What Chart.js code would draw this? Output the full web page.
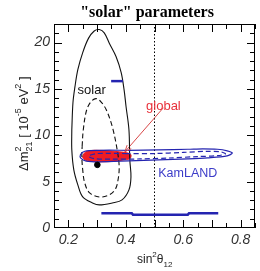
<!DOCTYPE html>
<html>
<head>
<meta charset="utf-8">
<script src="https://cdn.jsdelivr.net/npm/chart.js@4.4.1/dist/chart.umd.min.js"></script>
<style>
  html, body { margin: 0; padding: 0; background: #fff; overflow: hidden; }
  #wrap { width: 260px; height: 271px; }
</style>
</head>
<body>
<div id="wrap"><canvas id="chart" width="260" height="271"></canvas></div>
<script>
// axis ranges and labelled ticks
const xRange = [0.15, 0.85];
const yRange = [0, 22];
const xTicks = [0.2, 0.4, 0.6, 0.8];
const yTicks = [0, 5, 10, 15, 20];

// contours: [sin^2 theta12, dm2 (1e-5 eV^2)]
const solarOuter = [[0.212,10.59],[0.216,13.51],[0.223,15.24],[0.233,17.08],[0.250,18.92],[0.270,20.45],[0.290,21.25],[0.308,21.40],[0.325,21.05],[0.343,19.90],[0.366,18.49],[0.384,16.76],[0.394,14.92],[0.401,13.08],[0.411,10.59],[0.414,7.35],[0.418,5.51],[0.411,4.11],[0.387,3.03],[0.353,2.70],[0.308,2.49],[0.284,2.70],[0.250,3.35],[0.233,4.65],[0.219,6.27],[0.212,8.43],[0.212,10.59]];
const solarInner = [[0.248,8.80],[0.252,10.60],[0.264,12.76],[0.281,13.70],[0.298,13.95],[0.315,13.55],[0.332,12.76],[0.353,10.92],[0.370,8.43],[0.377,6.59],[0.373,5.19],[0.364,4.20],[0.342,3.57],[0.308,3.35],[0.274,3.78],[0.257,4.86],[0.250,6.27],[0.247,7.68],[0.248,8.80]];
const kamOuter = [[0.411,8.38],[0.514,8.43],[0.616,8.49],[0.668,8.54],[0.719,8.49],[0.753,8.32],[0.771,8.08],[0.753,7.78],[0.685,7.57],[0.616,7.46],[0.514,7.35],[0.411,7.24],[0.308,7.14],[0.262,7.22],[0.244,7.50],[0.242,7.89],[0.257,8.28],[0.308,8.38],[0.411,8.38]];
const kamInner = [[0.400,8.03],[0.500,8.03],[0.600,8.15],[0.680,8.27],[0.730,8.22],[0.747,8.00],[0.720,7.80],[0.650,7.70],[0.550,7.55],[0.450,7.45],[0.350,7.42],[0.290,7.48],[0.270,7.75],[0.300,8.03],[0.400,8.03]];
const kamLow = [[0.315,1.58],[0.421,1.58],[0.425,1.44],[0.616,1.44],[0.620,1.58],[0.722,1.58]];
const kamHigh = [[0.349,15.84],[0.390,15.84]];
const globalFit = [[0.342,8.32],[0.377,8.22],[0.404,8.11],[0.418,7.89],[0.414,7.46],[0.394,7.35],[0.360,7.19],[0.308,7.14],[0.267,7.24],[0.253,7.46],[0.250,7.72],[0.260,8.20],[0.291,8.38],[0.342,8.32]];
const bestFit = [[0.301, 6.81]];
const maximalMixing = [[0.5, 0], [0.5, 22]];
const arrowLine = [[0.531, 12.97], [0.397, 8.22]];

const pts = a => a.map(p => ({ x: p[0], y: p[1] }));
const BLUE = '#2424b0';
const RED = '#ee1c24';

function line(data, color, width, dash, tension) {
  return { data: pts(data), showLine: true, borderColor: color, borderWidth: width,
           borderDash: dash || [], pointRadius: 0, tension: tension || 0, fill: false };
}

// draws frame, inward ticks, title, axis titles, annotations
const decor = {
  id: 'decor',
  afterDatasetsDraw(chart) {
    const { ctx, chartArea: a, scales: { x, y } } = chart;
    ctx.save();
    ctx.strokeStyle = '#000';
    ctx.lineWidth = 1;
    ctx.strokeRect(a.left + 0.5, a.top + 0.5, a.right - a.left - 1, a.bottom - a.top - 1);
    ctx.beginPath();
    for (let v = 0.15; v <= 0.851; v += 0.05) {
      const px = Math.round(x.getPixelForValue(v)) + 0.5;
      const len = Math.abs(Math.round(v * 100) % 10) < 1e-6 ? 8 : 5;
      ctx.moveTo(px, a.bottom); ctx.lineTo(px, a.bottom - len);
      ctx.moveTo(px, a.top); ctx.lineTo(px, a.top + len);
    }
    for (let v = 1; v <= 22; v++) {
      const py = Math.round(y.getPixelForValue(v)) + 0.5;
      const len = v % 5 === 0 ? 8 : 5;
      ctx.moveTo(a.left, py); ctx.lineTo(a.left + len, py);
      ctx.moveTo(a.right, py); ctx.lineTo(a.right - len, py);
    }
    ctx.stroke();

    // arrow head for "global"
    const x0 = x.getPixelForValue(arrowLine[0][0]), y0 = y.getPixelForValue(arrowLine[0][1]);
    const x1 = x.getPixelForValue(arrowLine[1][0]), y1 = y.getPixelForValue(arrowLine[1][1]);
    const ang = Math.atan2(y1 - y0, x1 - x0);
    ctx.strokeStyle = '#d84848';
    ctx.beginPath();
    ctx.moveTo(x1 - 7 * Math.cos(ang - 0.4), y1 - 7 * Math.sin(ang - 0.4));
    ctx.lineTo(x1, y1);
    ctx.lineTo(x1 - 7 * Math.cos(ang + 0.4), y1 - 7 * Math.sin(ang + 0.4));
    ctx.stroke();

    ctx.textAlign = 'center';
    ctx.textBaseline = 'alphabetic';
    ctx.font = '13px "Liberation Sans"';
    ctx.fillStyle = '#111';
    ctx.fillText('solar', x.getPixelForValue(0.281), y.getPixelForValue(14.49));
    ctx.fillStyle = '#e8303a';
    ctx.fillText('global', x.getPixelForValue(0.531), y.getPixelForValue(12.76));
    ctx.font = '12.5px "Liberation Sans"';
    ctx.fillStyle = '#3c3cc8';
    ctx.fillText('KamLAND', x.getPixelForValue(0.616), y.getPixelForValue(5.51));

    // title
    ctx.fillStyle = '#000';
    ctx.font = 'bold 16px "Liberation Serif"';
    ctx.fillText('"solar" parameters', 147, 17);

    // x axis title: sin^2 theta_12
    ctx.textAlign = 'left';
    ctx.fillStyle = '#222';
    let cx = 137;
    const run = (t, size, dy) => {
      ctx.font = size + 'px "Liberation Sans"';
      ctx.fillText(t, cx, 263 + dy);
      cx += ctx.measureText(t).width;
    };
    run('sin', 12, 0); run('2', 8, -6); run('\u03b8', 12, 0); run('12', 8, 4);

    // y axis title: dm^2_21 [ 10^-5 eV^2 ]
    ctx.save();
    ctx.translate(28, 171);
    ctx.rotate(-Math.PI / 2);
    ctx.fillStyle = '#222';
    let cy = 0;
    const seg = (t, size, dy, adv) => {
      ctx.font = size + 'px "Liberation Sans"';
      ctx.fillText(t, cy, dy);
      const w = ctx.measureText(t).width;
      if (adv !== false) cy += w;
      return w;
    };
    seg('\u0394m', 13, 0);
    const w1 = seg('2', 9, -7, false);
    const w2 = seg('21', 9, 4, false);
    cy += Math.max(w1, w2);
    seg(' [ 10', 13, 0);
    seg('-5', 9, -7);
    seg(' eV', 13, 0);
    seg('2', 9, -7);
    seg(' ]', 13, 0);
    ctx.restore();
    ctx.restore();
  }
};

const tickFont = { family: '"Liberation Sans"', style: 'italic', size: 14 };

new Chart(document.getElementById('chart'), {
  type: 'scatter',
  data: {
    datasets: [
      { data: pts(bestFit), pointRadius: 2.8, pointBackgroundColor: '#000', pointBorderColor: '#000', showLine: false },
      line(kamOuter, BLUE, 1.2, [], 0.3),
      line(kamInner, BLUE, 1.2, [5, 3], 0.3),
      line(kamLow, BLUE, 2.5, [], 0),
      line(kamHigh, BLUE, 2.5, [], 0),
      line(solarOuter, '#111', 1.1, [], 0.35),
      line(solarInner, '#111', 1.1, [5, 3], 0.35),
      line(arrowLine, '#d84848', 1, [], 0),
      line(maximalMixing, '#000', 1, [1.5, 2], 0),
      { data: pts(globalFit), showLine: true, borderColor: RED, borderWidth: 1, backgroundColor: RED,
        fill: 'shape', pointRadius: 0, tension: 0.35 }
    ]
  },
  options: {
    responsive: false,
    animation: false,
    devicePixelRatio: 1,
    layout: { padding: { top: 24, right: 1, left: 0, bottom: 0 } },
    plugins: { legend: { display: false }, tooltip: { enabled: false }, title: { display: false } },
    scales: {
      x: {
        type: 'linear', min: xRange[0], max: xRange[1],
        afterBuildTicks: s => { s.ticks = xTicks.map(v => ({ value: v })); },
        afterFit: s => { s.height = 43; },
        ticks: { font: tickFont, color: '#333', padding: 4, maxRotation: 0, callback: v => v.toFixed(1) },
        grid: { display: false, drawTicks: false },
        border: { display: false }
      },
      y: {
        type: 'linear', min: yRange[0], max: yRange[1],
        afterBuildTicks: s => { s.ticks = yTicks.map(v => ({ value: v })); },
        afterFit: s => { s.width = 54; },
        ticks: { font: tickFont, color: '#333', padding: 4, callback: v => v },
        grid: { display: false, drawTicks: false },
        border: { display: false }
      }
    }
  },
  plugins: [decor]
});
</script>
</body>
</html>
